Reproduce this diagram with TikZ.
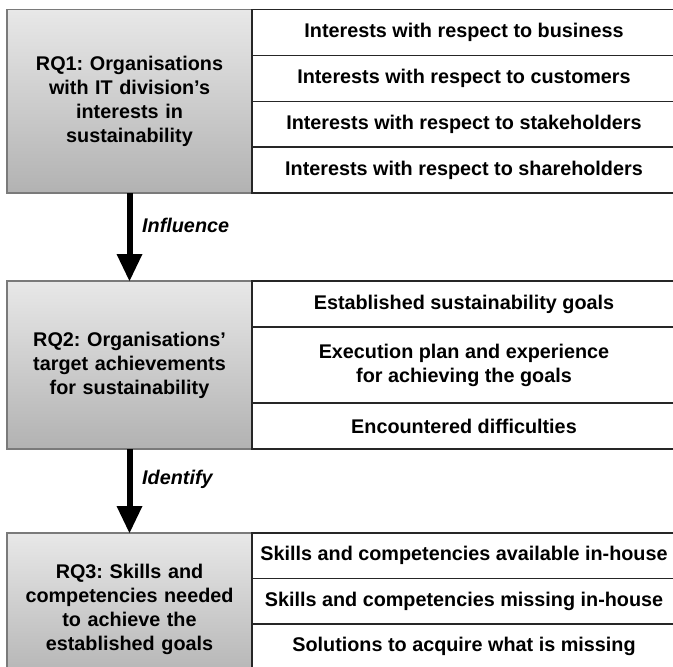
\documentclass[tikz,border=0pt]{standalone}
\usepackage{fontspec}
\setmainfont{Liberation Sans}
\usetikzlibrary{arrows.meta}
\definecolor{boxtop}{HTML}{E8E8E8}
\definecolor{boxbot}{HTML}{B2B2B2}
\definecolor{boxline}{HTML}{7A7A7A}
\begin{document}
\frenchspacing
\begin{tikzpicture}[x=1pt,y=-1pt,
  rqbox/.style={draw=boxline, line width=1.5pt, top color=boxtop, bottom color=boxbot,
    minimum width=245pt, text width=238pt, align=center, inner sep=0pt, outer sep=0pt,
    font=\bfseries\fontsize{19.8}{24}\selectfont},
  cell/.style={draw=black!85, line width=1.3pt, fill=white, minimum width=424pt,
    align=center, inner sep=0pt, outer sep=0pt,
    font=\bfseries\fontsize{19.8}{24}\selectfont},
  lbl/.style={anchor=west, inner sep=0pt, font=\bfseries\itshape\fontsize{19.8}{24}\selectfont},
  bigarrow/.style={line width=6pt, -{Triangle[width=26pt,length=27pt,line width=0pt]}}
]
\useasboundingbox (0,0) rectangle (673,667);
\clip (0,0) rectangle (673,667);

% RQ1
\node[rqbox, minimum height=183.5pt] (rq1) at (129.5,101.25) {RQ1: Organisations\\with IT division’s\\interests in\\sustainability};
\node[cell, minimum height=45.9pt] (a1) at (464,32.45) {Interests with respect to business};
\node[cell, minimum height=45.9pt] (a2) at (464,78.35) {Interests with respect to customers};
\node[cell, minimum height=45.9pt] (a3) at (464,124.15) {Interests with respect to stakeholders};
\node[cell, minimum height=45.9pt] (a4) at (464,170.05) {Interests with respect to shareholders};

% RQ2
\node[rqbox, minimum height=168pt] (rq2) at (129.5,365) {RQ2: Organisations’\\target achievements\\for sustainability};
\node[cell, minimum height=46pt] (b1) at (464,304) {Established sustainability goals};
\node[cell, minimum height=76pt] (b2) at (464,365) {Execution plan and experience\\for achieving the goals};
\node[cell, minimum height=46pt] (b3) at (464,426) {Encountered difficulties};

% RQ3
\node[rqbox, minimum height=152pt] (rq3) at (129.5,609) {RQ3: Skills and\\competencies needed\\to achieve the\\established goals};
\node[cell, minimum height=45.5pt] (c1) at (464,555.75) {Skills and competencies available in-house};
\node[cell, minimum height=45.5pt] (c2) at (464,601.25) {Skills and competencies missing in-house};
\node[cell, minimum height=45.5pt] (c3) at (464,646.75) {Solutions to acquire what is missing};

% connectors
\draw[bigarrow] (rq1.south) -- (rq2.north);
\draw[bigarrow] (rq2.south) -- (rq3.north);
\node[lbl] (l1) at (142,225) {Influence};
\node[lbl] (l2) at (142,479) {Identify};
\end{tikzpicture}
\end{document}
